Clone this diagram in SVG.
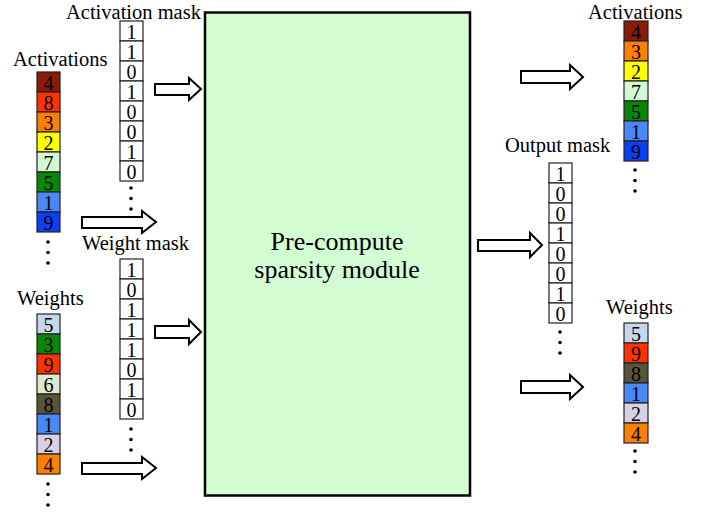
<svg xmlns="http://www.w3.org/2000/svg" width="710" height="512" viewBox="0 0 710 512">
<style>
text{font-family:"Liberation Serif","Times New Roman",serif;fill:#000}
.lbl{font-size:20.5px}
.d{font-size:20px;text-anchor:middle}
.c{stroke:#222;stroke-width:1.2}
.m{fill:#fff;stroke:#222;stroke-width:1.2}
.arr{fill:#fff;stroke:#000;stroke-width:2;stroke-linejoin:miter}
.dot{fill:#000}
</style>
<defs>
<g id="dots"><circle cx="0" cy="0" r="1.8" class="dot"/><circle cx="0" cy="10.5" r="1.8" class="dot"/><circle cx="0" cy="21" r="1.8" class="dot"/></g>
</defs>
<rect width="710" height="512" fill="#fff"/>

<g id="module">
<rect x="205" y="12.5" width="265" height="483" fill="#d2fcd2" stroke="#000" stroke-width="2.5"/>
<text x="337" y="250" font-size="26" text-anchor="middle">Pre-compute</text>
<text x="337" y="278" font-size="26" text-anchor="middle">sparsity module</text>
</g>

<g id="activations-in">
<text class="lbl" x="13" y="66">Activations</text>
<rect class="c" x="37" y="72" width="23" height="20" fill="#8b1a0b"/><text class="d" x="48.5" y="90">4</text>
<rect class="c" x="37" y="92" width="23" height="20" fill="#ff3300"/><text class="d" x="48.5" y="110">8</text>
<rect class="c" x="37" y="112" width="23" height="20" fill="#ff7f00"/><text class="d" x="48.5" y="130">3</text>
<rect class="c" x="37" y="132" width="23" height="20" fill="#ffff00"/><text class="d" x="48.5" y="150">2</text>
<rect class="c" x="37" y="152" width="23" height="20" fill="#d4f8d4"/><text class="d" x="48.5" y="170">7</text>
<rect class="c" x="37" y="172" width="23" height="20" fill="#0a870a"/><text class="d" x="48.5" y="190">5</text>
<rect class="c" x="37" y="192" width="23" height="20" fill="#4a88fa"/><text class="d" x="48.5" y="210">1</text>
<rect class="c" x="37" y="212" width="23" height="20" fill="#0a3ff5"/><text class="d" x="48.5" y="230">9</text>
<use href="#dots" x="48" y="242"/>
</g>

<g id="activation-mask">
<text class="lbl" x="66" y="18.5">Activation mask</text>
<rect class="m" x="120" y="21" width="23" height="20"/><text class="d" x="131.5" y="39">1</text>
<rect class="m" x="120" y="41" width="23" height="20"/><text class="d" x="131.5" y="59">1</text>
<rect class="m" x="120" y="61" width="23" height="20"/><text class="d" x="131.5" y="79">0</text>
<rect class="m" x="120" y="81" width="23" height="20"/><text class="d" x="131.5" y="99">1</text>
<rect class="m" x="120" y="101" width="23" height="20"/><text class="d" x="131.5" y="119">0</text>
<rect class="m" x="120" y="121" width="23" height="20"/><text class="d" x="131.5" y="139">0</text>
<rect class="m" x="120" y="141" width="23" height="20"/><text class="d" x="131.5" y="159">1</text>
<rect class="m" x="120" y="161" width="23" height="20"/><text class="d" x="131.5" y="179">0</text>
<use href="#dots" x="131" y="188"/>
</g>

<g id="weight-mask">
<text class="lbl" x="82" y="250">Weight mask</text>
<rect class="m" x="120" y="259" width="23" height="20"/><text class="d" x="131.5" y="277">1</text>
<rect class="m" x="120" y="279" width="23" height="20"/><text class="d" x="131.5" y="297">0</text>
<rect class="m" x="120" y="299" width="23" height="20"/><text class="d" x="131.5" y="317">1</text>
<rect class="m" x="120" y="319" width="23" height="20"/><text class="d" x="131.5" y="337">1</text>
<rect class="m" x="120" y="339" width="23" height="20"/><text class="d" x="131.5" y="357">1</text>
<rect class="m" x="120" y="359" width="23" height="20"/><text class="d" x="131.5" y="377">0</text>
<rect class="m" x="120" y="379" width="23" height="20"/><text class="d" x="131.5" y="397">1</text>
<rect class="m" x="120" y="399" width="23" height="20"/><text class="d" x="131.5" y="417">0</text>
<use href="#dots" x="131" y="429"/>
</g>

<g id="weights-in">
<text class="lbl" x="17" y="305">Weights</text>
<rect class="c" x="37" y="314" width="23" height="20" fill="#c6d7ec"/><text class="d" x="48.5" y="332">5</text>
<rect class="c" x="37" y="334" width="23" height="20" fill="#0a870a"/><text class="d" x="48.5" y="352">3</text>
<rect class="c" x="37" y="354" width="23" height="20" fill="#ff3300"/><text class="d" x="48.5" y="372">9</text>
<rect class="c" x="37" y="374" width="23" height="20" fill="#dfe8cf"/><text class="d" x="48.5" y="392">6</text>
<rect class="c" x="37" y="394" width="23" height="20" fill="#5a5437"/><text class="d" x="48.5" y="412">8</text>
<rect class="c" x="37" y="414" width="23" height="20" fill="#4a88fa"/><text class="d" x="48.5" y="432">1</text>
<rect class="c" x="37" y="434" width="23" height="20" fill="#d8d0e4"/><text class="d" x="48.5" y="452">2</text>
<rect class="c" x="37" y="454" width="23" height="20" fill="#ff7f00"/><text class="d" x="48.5" y="472">4</text>
<use href="#dots" x="48" y="484"/>
</g>

<g id="activations-out">
<text class="lbl" x="588" y="18.5">Activations</text>
<rect class="c" x="624" y="21" width="24" height="20" fill="#8b1a0b"/><text class="d" x="636" y="39">4</text>
<rect class="c" x="624" y="41" width="24" height="20" fill="#ff7f00"/><text class="d" x="636" y="59">3</text>
<rect class="c" x="624" y="61" width="24" height="20" fill="#ffff00"/><text class="d" x="636" y="79">2</text>
<rect class="c" x="624" y="81" width="24" height="20" fill="#d4f8d4"/><text class="d" x="636" y="99">7</text>
<rect class="c" x="624" y="101" width="24" height="20" fill="#0a870a"/><text class="d" x="636" y="119">5</text>
<rect class="c" x="624" y="121" width="24" height="20" fill="#4a88fa"/><text class="d" x="636" y="139">1</text>
<rect class="c" x="624" y="141" width="24" height="20" fill="#0a3ff5"/><text class="d" x="636" y="159">9</text>
<use href="#dots" x="635" y="170"/>
</g>

<g id="output-mask">
<text class="lbl" x="505" y="152">Output mask</text>
<rect class="m" x="549" y="163" width="23" height="20"/><text class="d" x="560.5" y="181">1</text>
<rect class="m" x="549" y="183" width="23" height="20"/><text class="d" x="560.5" y="201">0</text>
<rect class="m" x="549" y="203" width="23" height="20"/><text class="d" x="560.5" y="221">0</text>
<rect class="m" x="549" y="223" width="23" height="20"/><text class="d" x="560.5" y="241">1</text>
<rect class="m" x="549" y="243" width="23" height="20"/><text class="d" x="560.5" y="261">0</text>
<rect class="m" x="549" y="263" width="23" height="20"/><text class="d" x="560.5" y="281">0</text>
<rect class="m" x="549" y="283" width="23" height="20"/><text class="d" x="560.5" y="301">1</text>
<rect class="m" x="549" y="303" width="23" height="20"/><text class="d" x="560.5" y="321">0</text>
<use href="#dots" x="560" y="332"/>
</g>

<g id="weights-out">
<text class="lbl" x="606" y="314">Weights</text>
<rect class="c" x="624" y="323" width="24" height="20" fill="#c6d7ec"/><text class="d" x="636" y="341">5</text>
<rect class="c" x="624" y="343" width="24" height="20" fill="#ff3300"/><text class="d" x="636" y="361">9</text>
<rect class="c" x="624" y="363" width="24" height="20" fill="#5a5437"/><text class="d" x="636" y="381">8</text>
<rect class="c" x="624" y="383" width="24" height="20" fill="#4a88fa"/><text class="d" x="636" y="401">1</text>
<rect class="c" x="624" y="403" width="24" height="20" fill="#d8d0e4"/><text class="d" x="636" y="421">2</text>
<rect class="c" x="624" y="423" width="24" height="20" fill="#ff7f00"/><text class="d" x="636" y="441">4</text>
<use href="#dots" x="635" y="451"/>
</g>

<g id="connectors">
<polygon class="arr" points="155,84 189,84 189,78 201,89 189,100 189,95 155,95"/>
<polygon class="arr" points="82,217 142,217 142,211 156,222 142,233 142,228 82,228"/>
<polygon class="arr" points="155,326 189,326 189,320 201,332 189,344 189,338 155,338"/>
<polygon class="arr" points="82,463 142,463 142,457 156,468 142,479 142,474 82,474"/>
<polygon class="arr" points="521,71 570,71 570,65 583,77 570,89 570,83 521,83"/>
<polygon class="arr" points="478,240 530,240 530,233 542,245 530,257 530,251 478,251"/>
<polygon class="arr" points="521,381 570,381 570,375 583,387 570,399 570,393 521,393"/>
</g>
</svg>
